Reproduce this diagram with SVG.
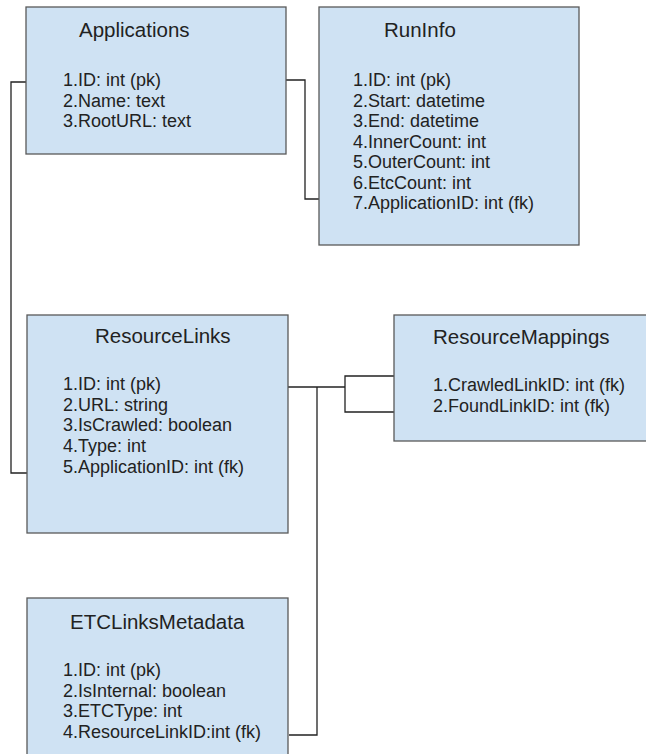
<svg xmlns="http://www.w3.org/2000/svg" width="646" height="754" viewBox="0 0 646 754">
  <style>
    .box { fill: #cfe2f3; stroke: #595959; stroke-width: 1.3; }
    .title { font-family: "Liberation Sans", Arial, sans-serif; font-size: 20.5px; fill: #222; }
    .field { font-family: "Liberation Sans", Arial, sans-serif; font-size: 18px; fill: #222; }
    .conn { fill: none; stroke: #222; stroke-width: 1.3; }
  </style>
  <rect width="646" height="754" fill="#ffffff"/>

  <!-- relationship lines -->
  <g id="connectors">
    <path class="conn" d="M286,80 H305 V199 H319"/>
    <path class="conn" d="M26,82 H11 V473 H27"/>
    <path class="conn" d="M288,387 H345"/>
    <path class="conn" d="M394,376 H345 V412 H394"/>
    <path class="conn" d="M317,387 V735 H289"/>
  </g>

  <g id="Applications">
    <rect class="box" x="26" y="7" width="260" height="147"/>
    <text class="title" x="79" y="37">Applications</text>
    <text class="field" x="63" y="86">1.ID: int (pk)</text>
    <text class="field" x="63" y="106.5">2.Name: text</text>
    <text class="field" x="63" y="127">3.RootURL: text</text>
  </g>

  <g id="RunInfo">
    <rect class="box" x="319" y="7" width="260" height="238"/>
    <text class="title" x="384" y="37">RunInfo</text>
    <text class="field" x="353" y="86">1.ID: int (pk)</text>
    <text class="field" x="353" y="106.5">2.Start: datetime</text>
    <text class="field" x="353" y="127">3.End: datetime</text>
    <text class="field" x="353" y="147.5">4.InnerCount: int</text>
    <text class="field" x="353" y="168">5.OuterCount: int</text>
    <text class="field" x="353" y="188.5">6.EtcCount: int</text>
    <text class="field" x="353" y="209">7.ApplicationID: int (fk)</text>
  </g>

  <g id="ResourceLinks">
    <rect class="box" x="27" y="315" width="261" height="218"/>
    <text class="title" x="95" y="343">ResourceLinks</text>
    <text class="field" x="63" y="390">1.ID: int (pk)</text>
    <text class="field" x="63" y="410.7">2.URL: string</text>
    <text class="field" x="63" y="431.4">3.IsCrawled: boolean</text>
    <text class="field" x="63" y="452.1">4.Type: int</text>
    <text class="field" x="63" y="472.8">5.ApplicationID: int (fk)</text>
  </g>

  <g id="ResourceMappings">
    <rect class="box" x="394" y="315" width="262" height="126"/>
    <text class="title" x="433" y="344">ResourceMappings</text>
    <text class="field" x="433" y="391">1.CrawledLinkID: int (fk)</text>
    <text class="field" x="433" y="412">2.FoundLinkID: int (fk)</text>
  </g>

  <g id="ETCLinksMetadata">
    <rect class="box" x="27" y="598" width="261" height="170"/>
    <text class="title" x="70" y="629">ETCLinksMetadata</text>
    <text class="field" x="63" y="676">1.ID: int (pk)</text>
    <text class="field" x="63" y="696.5">2.IsInternal: boolean</text>
    <text class="field" x="63" y="717">3.ETCType: int</text>
    <text class="field" x="63" y="737.5">4.ResourceLinkID:int (fk)</text>
  </g>
</svg>
